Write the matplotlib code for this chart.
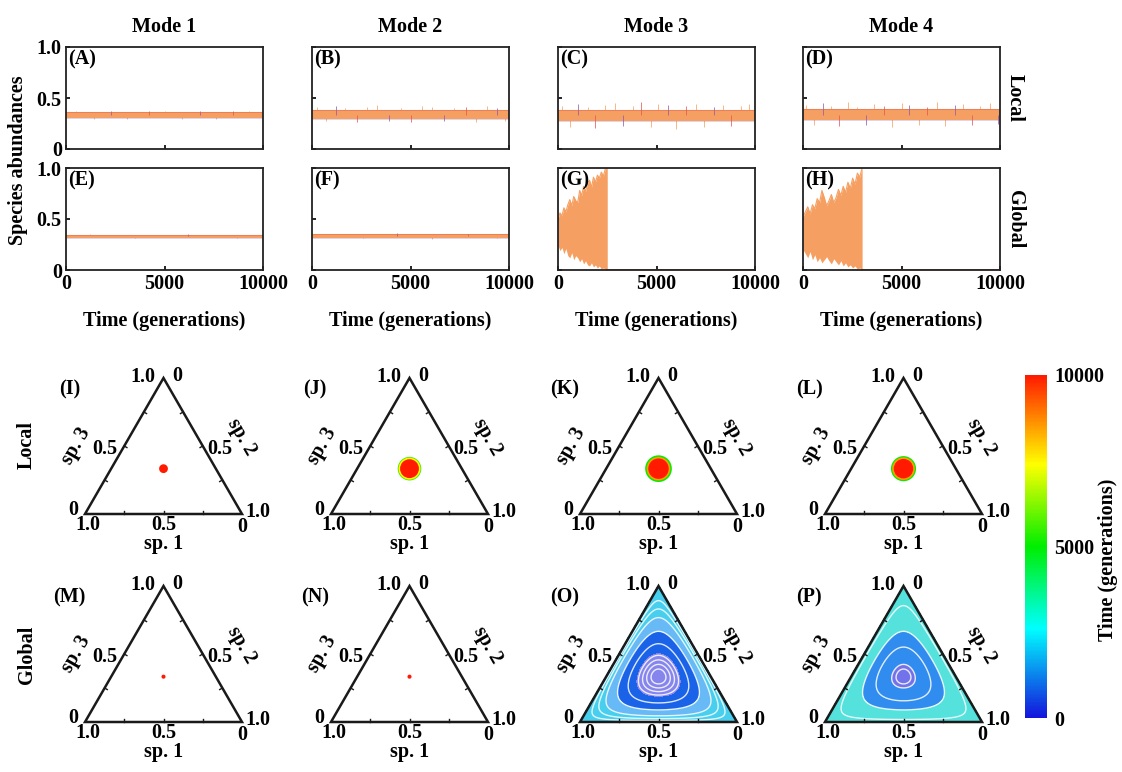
import numpy as np
import matplotlib
matplotlib.use("Agg")
import matplotlib.pyplot as plt
from matplotlib.colors import LinearSegmentedColormap, Normalize
from matplotlib.cm import ScalarMappable
from matplotlib.patches import Circle, Polygon

plt.rcParams['font.family'] = ['Liberation Serif', 'DejaVu Serif']
plt.rcParams['font.weight'] = 'bold'
FS = 14.5

# ---------------- data ----------------
modes = ["Mode 1", "Mode 2", "Mode 3", "Mode 4"]
rows = ["Local", "Global"]
t_max = 10000

# steady bands (lower, upper abundance) for the coexisting runs
A_band = (0.305, 0.360)
B_band = (0.290, 0.385)
C_band = (0.275, 0.385)
D_band = (0.280, 0.390)
E_band = (0.318, 0.345)
F_band = (0.315, 0.350)

# fluctuation peaks (time, abundance)
A_spk_t = [500, 1400, 2300, 3100, 4200, 5000, 5900, 6800, 7600, 8500, 9300]
A_spk_v = [0.372, 0.296, 0.370, 0.298, 0.368, 0.371, 0.295, 0.370, 0.297, 0.369, 0.372]
B_spk_t = [250, 700, 1200, 1700, 2300, 2800, 3300, 3900, 4500, 5000, 5600, 6100, 6700, 7200, 7800, 8300, 8900, 9400, 9800]
B_spk_v = [0.41, 0.27, 0.42, 0.405, 0.26, 0.41, 0.43, 0.275, 0.40, 0.265, 0.425, 0.41, 0.27, 0.40, 0.415, 0.26, 0.42, 0.40, 0.275]
C_spk_t = [200, 600, 1000, 1500, 1900, 2400, 2900, 3300, 3800, 4200, 4700, 5100, 5600, 6000, 6500, 7000, 7400, 7900, 8400, 8800, 9300, 9700]
C_spk_v = [0.42, 0.22, 0.44, 0.41, 0.21, 0.43, 0.45, 0.23, 0.42, 0.46, 0.22, 0.44, 0.43, 0.20, 0.42, 0.44, 0.22, 0.41, 0.43, 0.23, 0.42, 0.44]
D_spk_t = [150, 550, 1000, 1400, 1850, 2300, 2750, 3200, 3600, 4100, 4500, 5000, 5400, 5900, 6300, 6800, 7200, 7700, 8100, 8600, 9000, 9500, 9900]
D_spk_v = [0.43, 0.24, 0.45, 0.42, 0.23, 0.46, 0.41, 0.24, 0.44, 0.42, 0.22, 0.45, 0.43, 0.24, 0.41, 0.46, 0.23, 0.43, 0.44, 0.24, 0.42, 0.45, 0.25]
E_spk_t = [1200, 3500, 6200, 8700]
E_spk_v = [0.350, 0.312, 0.352, 0.313]
F_spk_t = [800, 2600, 4300, 6100, 7900, 9400]
F_spk_v = [0.357, 0.310, 0.358, 0.308, 0.356, 0.310]

# growing oscillations before extinction (global dispersal, modes 3 and 4)
G_t = [0, 100, 200, 300, 400, 500, 600, 700, 800, 900, 1000, 1100, 1200,
       1300, 1400, 1500, 1600, 1700, 1800, 1900, 2000, 2100, 2200, 2300, 2400, 2500]
G_hi = [0.50, 0.56, 0.53, 0.61, 0.57, 0.64, 0.69, 0.63, 0.72, 0.68, 0.66, 0.78, 0.73,
        0.82, 0.77, 0.85, 0.88, 0.81, 0.91, 0.86, 0.93, 0.90, 0.96, 0.92, 0.99, 1.00]
G_lo = [0.24, 0.19, 0.22, 0.16, 0.21, 0.14, 0.12, 0.17, 0.10, 0.14, 0.12, 0.08, 0.11,
        0.06, 0.09, 0.05, 0.04, 0.07, 0.03, 0.05, 0.02, 0.04, 0.01, 0.02, 0.01, 0.00]
H_t = [0, 120, 240, 360, 480, 600, 720, 840, 960, 1080, 1200, 1320, 1440,
       1560, 1680, 1800, 1920, 2040, 2160, 2280, 2400, 2520, 2640, 2760, 2880, 3000]
H_hi = [0.52, 0.57, 0.62, 0.55, 0.64, 0.60, 0.70, 0.66, 0.78, 0.71, 0.63, 0.68, 0.74,
        0.66, 0.71, 0.79, 0.73, 0.82, 0.76, 0.86, 0.80, 0.90, 0.84, 0.95, 0.91, 1.00]
H_lo = [0.20, 0.16, 0.12, 0.18, 0.10, 0.15, 0.08, 0.12, 0.07, 0.10, 0.13, 0.09, 0.06,
        0.11, 0.08, 0.05, 0.09, 0.04, 0.07, 0.03, 0.05, 0.02, 0.04, 0.01, 0.02, 0.00]

# simplex panels near the interior fixed point: (time, spread radius)
I_t, I_r = [10000], [0.028]
J_t, J_r = [5500, 7500, 10000], [0.075, 0.070, 0.060]
K_t, K_r = [5000, 8500, 10000], [0.085, 0.075, 0.065]
L_t, L_r = [5000, 8500, 10000], [0.080, 0.072, 0.062]
M_t, M_r = [10000], [0.013]
N_t, N_r = [10000], [0.013]

# spiralling orbits: bands of the invariant 27*s1*s2*s3 (outer -> inner)
O_q = [0.0, 0.28, 0.52, 0.84, 1.0]
O_time = [2000, 1400, 800, 0]
O_gap = [0.07, 0.16, 0.28, 0.50, 0.70, 0.86, 0.91, 0.95, 0.98]
P_q = [0.0, 0.52, 0.95, 1.0]
P_time = [2700, 1100, 0]
P_gap = [0.12, 0.50, 0.75, 0.95, 0.98]

# band tints: (strength, background level)
O_tint = [(0.68, 0.86), (0.62, 1.0), (0.95, 1.0), (0.52, 1.0)]
P_tint = [(0.55, 0.75), (0.85, 1.0), (0.60, 1.0)]

colors_sp = ["#f5a062", "#e2574c", "#8e5aa8"]
cmap = LinearSegmentedColormap.from_list(
    "time", [(0.0, "#1414dc"), (0.26, "#00ffff"), (0.5, "#00ee00"),
             (0.74, "#ffff00"), (1.0, "#ff1a00")])

# ---------------- figure ----------------
W, H = 1122, 772
fig = plt.figure(figsize=(W / 100, H / 100), dpi=100)


def px_axes(l, t, w, h):
    return fig.add_axes([l / W, 1 - (t + h) / H, w / W, h / H])


col_left = [66, 312, 558, 803]
row_top = [47, 168]
aw, ah = 197, 102

steady = {
    "A": (A_band, A_spk_t, A_spk_v), "B": (B_band, B_spk_t, B_spk_v),
    "C": (C_band, C_spk_t, C_spk_v), "D": (D_band, D_spk_t, D_spk_v),
    "E": (E_band, E_spk_t, E_spk_v), "F": (F_band, F_spk_t, F_spk_v),
}
extinct = {"G": (G_t, G_lo, G_hi), "H": (H_t, H_lo, H_hi)}
spike_cols = [colors_sp[0], colors_sp[0], colors_sp[2], colors_sp[0], colors_sp[1]]

letters = [["A", "B", "C", "D"], ["E", "F", "G", "H"]]
for r in range(2):
    for c in range(4):
        key = letters[r][c]
        ax = px_axes(col_left[c], row_top[r], aw, ah)
        ax.set_xlim(0, t_max)
        ax.set_ylim(0, 1.0)
        if key in steady:
            (lo, hi), st, sv = steady[key]
            ax.fill_between([0, t_max], lo, hi, color=colors_sp[0], lw=0, zorder=2)
            ax.plot([0, t_max], [hi, hi], color=colors_sp[1], lw=0.8, alpha=0.45, zorder=3)
            ax.plot([0, t_max], [lo, lo], color=colors_sp[2], lw=0.6, alpha=0.3, zorder=3)
            mid = 0.5 * (lo + hi)
            for i, (tt, vv) in enumerate(zip(st, sv)):
                ax.vlines(tt, mid, vv, color=spike_cols[i % 5], lw=0.7, alpha=0.75, zorder=2)
        else:
            tt, lo, hi = extinct[key]
            ax.fill_between(tt, lo, hi, color=colors_sp[0], lw=0, zorder=2)
            ax.plot(tt, hi, color=colors_sp[0], lw=0.8, zorder=2)
            ax.plot([tt[-1], t_max], [0.004, 0.004], color=colors_sp[1], lw=1.2, zorder=3)
        for s in ax.spines.values():
            s.set_linewidth(1.3)
            s.set_color("#222222")
            s.set_zorder(4)
        ax.set_xticks([0, 5000, 10000])
        ax.set_yticks([0, 0.5, 1.0])
        ax.tick_params(direction="in", length=3, width=1.2, labelsize=FS, pad=3)
        ax.set_yticklabels(["0", "0.5", "1.0"] if c == 0 else [])
        ax.set_xticklabels(["0", "5000", "10000"] if r == 1 else [])
        ax.text(0.012, 0.975, f"({key})", transform=ax.transAxes, ha="left", va="top",
                fontsize=FS, zorder=5)
        if r == 1:
            ax.text(0.5, -0.5, "Time (generations)", transform=ax.transAxes,
                    ha="center", va="center", fontsize=FS)
        if r == 0:
            ax.text(0.5, 1.2, modes[c], transform=ax.transAxes, ha="center",
                    va="center", fontsize=FS)
    fig.text(1015 / W, 1 - (row_top[r] + ah / 2) / H, rows[r], rotation=270,
             ha="center", va="center", fontsize=FS)

fig.text(18 / W, 1 - 160 / H, "Species abundances", rotation=90,
         ha="center", va="center", fontsize=FS)

# ---------------- simplex panels ----------------
S3 = np.sqrt(3) / 2


def to_xy(s1, s2, s3):
    return s2 + s3 / 2.0, s3 * S3


def shade(t, a, bg):
    rgb = np.array(cmap(t / t_max)[:3])
    return tuple(np.clip(a * rgb + (1 - a) * bg, 0, 1))


gx, gy = np.meshgrid(np.linspace(-0.01, 1.01, 500), np.linspace(-0.01, S3 + 0.01, 450))
g3 = gy / S3
g2 = gx - g3 / 2
g1 = 1 - g2 - g3
inside = (g1 >= -0.004) & (g2 >= -0.004) & (g3 >= -0.004)
q = np.ma.masked_where(~inside, 27 * np.clip(g1, 0, 1) * np.clip(g2, 0, 1) * np.clip(g3, 0, 1))

tri_left = [85, 331, 580, 825]
tri_base = [514, 722]
tw, th = 157, 136

blobs = {"I": (I_t, I_r), "J": (J_t, J_r), "K": (K_t, K_r), "L": (L_t, L_r),
         "M": (M_t, M_r), "N": (N_t, N_r)}
orbits = {"O": (O_q, O_time, O_tint, O_gap), "P": (P_q, P_time, P_tint, P_gap)}
tri_letters = [["I", "J", "K", "L"], ["M", "N", "O", "P"]]

for r in range(2):
    for c in range(4):
        key = tri_letters[r][c]
        ax = px_axes(tri_left[c], tri_base[r] - th, tw, th)
        ax.set_xlim(0, 1)
        ax.set_ylim(0, S3)
        ax.axis("off")
        if key in blobs:
            bt, br = blobs[key]
            cx, cy = to_xy(1 / 3, 1 / 3, 1 / 3)
            for tt, rr in zip(bt, br):
                ax.add_patch(Circle((cx, cy), rr, color=cmap(tt / t_max), lw=0, zorder=3))
        else:
            qq, qt, tint, gaps = orbits[key]
            cols = [shade(t, a, bg) for t, (a, bg) in zip(qt, tint)]
            ax.contourf(gx, gy, q, levels=qq, colors=cols, zorder=1)
            ax.contour(gx, gy, q, levels=gaps, colors="white", linewidths=1.0,
                       alpha=0.85, zorder=2)
        # frame and ticks
        ax.add_patch(Polygon([to_xy(1, 0, 0), to_xy(0, 1, 0), to_xy(0, 0, 1)],
                             closed=True, fill=False, ec="#1a1a1a", lw=1.8,
                             zorder=4, joinstyle="miter", clip_on=False))
        for v in [0.25, 0.5, 0.75]:
            x0, y0 = to_xy(v, 1 - v, 0)
            ax.plot([x0, x0], [0, 0.02], color="#1a1a1a", lw=1, zorder=4, clip_on=False)
            x0, y0 = to_xy(0, v, 1 - v)
            ax.plot([x0, x0 - 0.017], [y0, y0 - 0.01], color="#1a1a1a", lw=1, zorder=4, clip_on=False)
            x0, y0 = to_xy(1 - v, 0, v)
            ax.plot([x0, x0 + 0.017], [y0, y0 - 0.01], color="#1a1a1a", lw=1, zorder=4, clip_on=False)
        kw = dict(fontsize=FS, clip_on=False, zorder=5)
        ax.text(0.45, S3 + 0.005, "1.0", ha="right", va="center", **kw)
        ax.text(0.555, S3 + 0.01, "0", ha="left", va="center", **kw)
        ax.text(-0.075, 0.028, "0", ha="center", va="center", **kw)
        ax.text(0.02, -0.067, "1.0", ha="center", va="center", **kw)
        ax.text(1.02, 0.014, "1.0", ha="left", va="center", **kw)
        ax.text(1.0, -0.08, "0", ha="center", va="center", **kw)
        ax.text(0.205, 0.415, "0.5", ha="right", va="center", **kw)
        ax.text(0.78, 0.415, "0.5", ha="left", va="center", **kw)
        ax.text(0.5, -0.07, "0.5", ha="center", va="center", **kw)
        ax.text(0.5, -0.19, "sp. 1", ha="center", va="center", **kw)
        ax.text(-0.055, 0.43, "sp. 3", ha="center", va="center", rotation=60, **kw)
        ax.text(0.995, 0.49, "sp. 2", ha="center", va="center", rotation=-60, **kw)
        ax.text(-0.1, 0.79, f"({key})", ha="center", va="center", **kw)

fig.text(27 / W, 1 - 445 / H, "Local", rotation=90, ha="center", va="center", fontsize=FS)
fig.text(27 / W, 1 - 655 / H, "Global", rotation=90, ha="center", va="center", fontsize=FS)

# ---------------- colour bar ----------------
cax = px_axes(1025, 375, 22, 343)
sm = ScalarMappable(norm=Normalize(0, t_max), cmap=cmap)
cb = fig.colorbar(sm, cax=cax, ticks=[0, 5000, 10000])
cb.outline.set_visible(False)
cax.tick_params(length=0, labelsize=FS, pad=5)
cax.set_yticklabels(["0", "5000", "10000"])
fig.text(1108 / W, 1 - 560 / H, "Time (generations)", rotation=90,
         ha="center", va="center", fontsize=FS)

fig.savefig("out.png", dpi=100)
